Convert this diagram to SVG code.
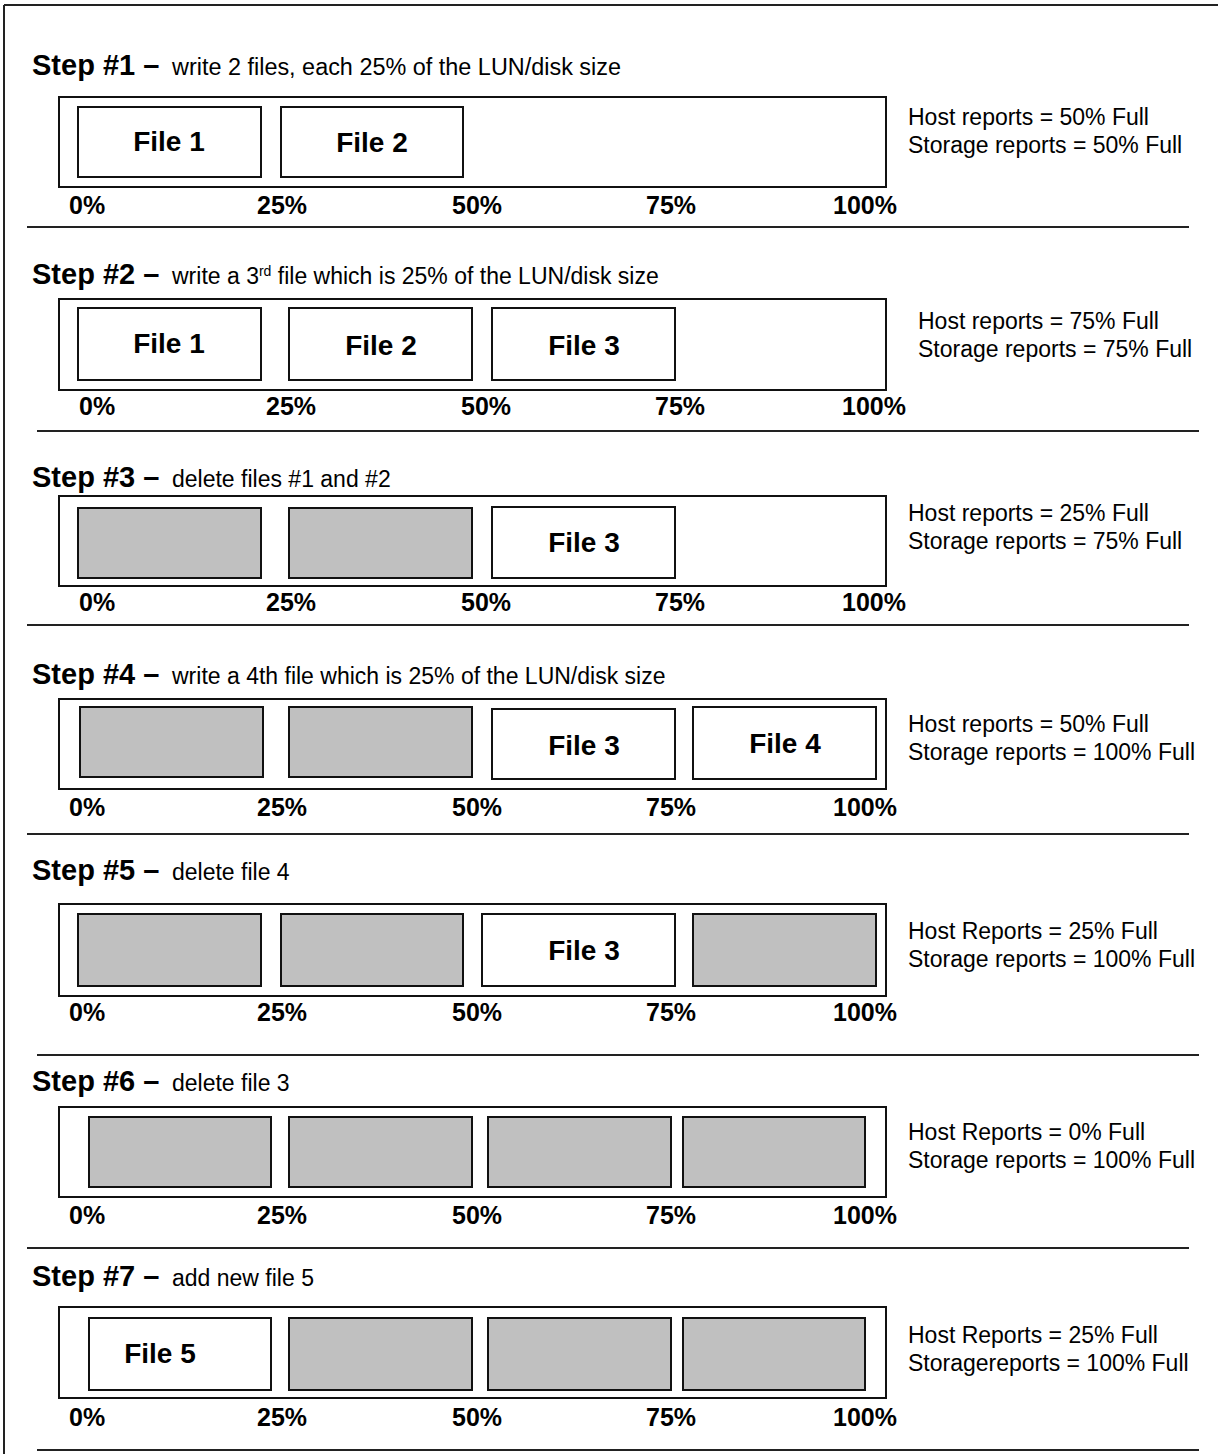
<svg xmlns="http://www.w3.org/2000/svg" width="1218" height="1454" viewBox="0 0 1218 1454">
<style>
.frame{fill:none;stroke:#222;stroke-width:2}
.disk{fill:#fff;stroke:#111;stroke-width:2}
.file{fill:#fff;stroke:#111;stroke-width:2}
.del{fill:#c0c0c0;stroke:#111;stroke-width:2}
.sep{stroke:#222;stroke-width:2}
.hd{font-family:"Liberation Sans",Arial,sans-serif;font-weight:bold;font-size:29px;fill:#000}
.sub{font-family:"Liberation Sans",Arial,sans-serif;font-size:23px;fill:#000}
.fl{font-family:"Liberation Sans",Arial,sans-serif;font-weight:bold;font-size:28px;fill:#000;text-anchor:middle}
.pc{font-family:"Liberation Sans",Arial,sans-serif;font-weight:bold;font-size:25px;fill:#000}
.rp{font-family:"Liberation Sans",Arial,sans-serif;font-size:23px;fill:#000}
</style>
<rect width="1218" height="1454" fill="#fff"/>
<g id="frame">
<line class="frame" x1="4" y1="5" x2="1218" y2="5"/>
<line class="frame" x1="4" y1="5" x2="4" y2="1454"/>
</g>
<g id="separators">
<line class="sep" x1="27" y1="227" x2="1189" y2="227"/>
<line class="sep" x1="37" y1="431" x2="1199" y2="431"/>
<line class="sep" x1="27" y1="625" x2="1189" y2="625"/>
<line class="sep" x1="27" y1="834" x2="1189" y2="834"/>
<line class="sep" x1="37" y1="1055" x2="1199" y2="1055"/>
<line class="sep" x1="27" y1="1248" x2="1189" y2="1248"/>
<line class="sep" x1="37" y1="1450" x2="1199" y2="1450"/>
</g>
<g id="connectors"></g>

<g id="step1">
<text class="hd" x="32" y="75">Step #1 –</text>
<text class="sub" x="172" y="75" textLength="449" lengthAdjust="spacingAndGlyphs">write 2 files, each 25% of the LUN/disk size</text>
<rect class="disk" x="59" y="97" width="827" height="90"/>
<g id="s1-file1"><rect class="file" x="78" y="107" width="183" height="70"/><text class="fl" x="169" y="151">File 1</text></g>
<g id="s1-file2"><rect class="file" x="281" y="107" width="182" height="70"/><text class="fl" x="372" y="152">File 2</text></g>
<g class="pc"><text x="69" y="214">0%</text><text x="257" y="214">25%</text><text x="452" y="214">50%</text><text x="646" y="214">75%</text><text x="833" y="214">100%</text></g>
<text class="rp" x="908" y="125">Host reports = 50% Full</text>
<text class="rp" x="908" y="153">Storage reports = 50% Full</text>
</g>

<g id="step2">
<text class="hd" x="32" y="284">Step #2 –</text>
<text class="sub" x="172" y="284">write a 3<tspan font-size="14" dy="-8">rd</tspan><tspan dy="8"> file which is 25% of the LUN/disk size</tspan></text>
<rect class="disk" x="59" y="299" width="827" height="91"/>
<g id="s2-file1"><rect class="file" x="78" y="308" width="183" height="72"/><text class="fl" x="169" y="353">File 1</text></g>
<g id="s2-file2"><rect class="file" x="289" y="308" width="183" height="72"/><text class="fl" x="381" y="355">File 2</text></g>
<g id="s2-file3"><rect class="file" x="492" y="308" width="183" height="72"/><text class="fl" x="584" y="355">File 3</text></g>
<g class="pc"><text x="79" y="415">0%</text><text x="266" y="415">25%</text><text x="461" y="415">50%</text><text x="655" y="415">75%</text><text x="842" y="415">100%</text></g>
<text class="rp" x="918" y="329">Host reports = 75% Full</text>
<text class="rp" x="918" y="357">Storage reports = 75% Full</text>
</g>

<g id="step3">
<text class="hd" x="32" y="487">Step #3 –</text>
<text class="sub" x="172" y="487">delete files #1 and #2</text>
<rect class="disk" x="59" y="496" width="827" height="90"/>
<g id="s3-del1"><rect class="del" x="78" y="508" width="183" height="70"/></g>
<g id="s3-del2"><rect class="del" x="289" y="508" width="183" height="70"/></g>
<g id="s3-file3"><rect class="file" x="492" y="507" width="183" height="71"/><text class="fl" x="584" y="552">File 3</text></g>
<g class="pc"><text x="79" y="611">0%</text><text x="266" y="611">25%</text><text x="461" y="611">50%</text><text x="655" y="611">75%</text><text x="842" y="611">100%</text></g>
<text class="rp" x="908" y="521">Host reports = 25% Full</text>
<text class="rp" x="908" y="549">Storage reports = 75% Full</text>
</g>

<g id="step4">
<text class="hd" x="32" y="684">Step #4 –</text>
<text class="sub" x="172" y="684">write a 4th file which is 25% of the LUN/disk size</text>
<rect class="disk" x="59" y="699" width="827" height="90"/>
<g id="s4-del1"><rect class="del" x="80" y="707" width="183" height="70"/></g>
<g id="s4-del2"><rect class="del" x="289" y="707" width="183" height="70"/></g>
<g id="s4-file3"><rect class="file" x="492" y="709" width="183" height="70"/><text class="fl" x="584" y="755">File 3</text></g>
<g id="s4-file4"><rect class="file" x="693" y="707" width="183" height="72"/><text class="fl" x="785" y="753">File 4</text></g>
<g class="pc"><text x="69" y="816">0%</text><text x="257" y="816">25%</text><text x="452" y="816">50%</text><text x="646" y="816">75%</text><text x="833" y="816">100%</text></g>
<text class="rp" x="908" y="732">Host reports = 50% Full</text>
<text class="rp" x="908" y="760">Storage reports = 100% Full</text>
</g>

<g id="step5">
<text class="hd" x="32" y="880">Step #5 –</text>
<text class="sub" x="172" y="880">delete file 4</text>
<rect class="disk" x="59" y="904" width="827" height="92"/>
<g id="s5-del1"><rect class="del" x="78" y="914" width="183" height="72"/></g>
<g id="s5-del2"><rect class="del" x="281" y="914" width="182" height="72"/></g>
<g id="s5-file3"><rect class="file" x="482" y="914" width="193" height="72"/><text class="fl" x="584" y="960">File 3</text></g>
<g id="s5-del4"><rect class="del" x="693" y="914" width="183" height="72"/></g>
<g class="pc"><text x="69" y="1021">0%</text><text x="257" y="1021">25%</text><text x="452" y="1021">50%</text><text x="646" y="1021">75%</text><text x="833" y="1021">100%</text></g>
<text class="rp" x="908" y="939">Host Reports = 25% Full</text>
<text class="rp" x="908" y="967">Storage reports = 100% Full</text>
</g>

<g id="step6">
<text class="hd" x="32" y="1091">Step #6 –</text>
<text class="sub" x="172" y="1091">delete file 3</text>
<rect class="disk" x="59" y="1107" width="827" height="90"/>
<g id="s6-del1"><rect class="del" x="89" y="1117" width="182" height="70"/></g>
<g id="s6-del2"><rect class="del" x="289" y="1117" width="183" height="70"/></g>
<g id="s6-del3"><rect class="del" x="488" y="1117" width="183" height="70"/></g>
<g id="s6-del4"><rect class="del" x="683" y="1117" width="182" height="70"/></g>
<g class="pc"><text x="69" y="1224">0%</text><text x="257" y="1224">25%</text><text x="452" y="1224">50%</text><text x="646" y="1224">75%</text><text x="833" y="1224">100%</text></g>
<text class="rp" x="908" y="1140">Host Reports = 0% Full</text>
<text class="rp" x="908" y="1168">Storage reports = 100% Full</text>
</g>

<g id="step7">
<text class="hd" x="32" y="1286">Step #7 –</text>
<text class="sub" x="172" y="1286">add new file 5</text>
<rect class="disk" x="59" y="1307" width="827" height="91"/>
<g id="s7-file5"><rect class="file" x="89" y="1318" width="182" height="72"/><text class="fl" x="160" y="1363">File 5</text></g>
<g id="s7-del2"><rect class="del" x="289" y="1318" width="183" height="72"/></g>
<g id="s7-del3"><rect class="del" x="488" y="1318" width="183" height="72"/></g>
<g id="s7-del4"><rect class="del" x="683" y="1318" width="182" height="72"/></g>
<g class="pc"><text x="69" y="1426">0%</text><text x="257" y="1426">25%</text><text x="452" y="1426">50%</text><text x="646" y="1426">75%</text><text x="833" y="1426">100%</text></g>
<text class="rp" x="908" y="1343">Host Reports = 25% Full</text>
<text class="rp" x="908" y="1371">Storagereports = 100% Full</text>
</g>
</svg>
